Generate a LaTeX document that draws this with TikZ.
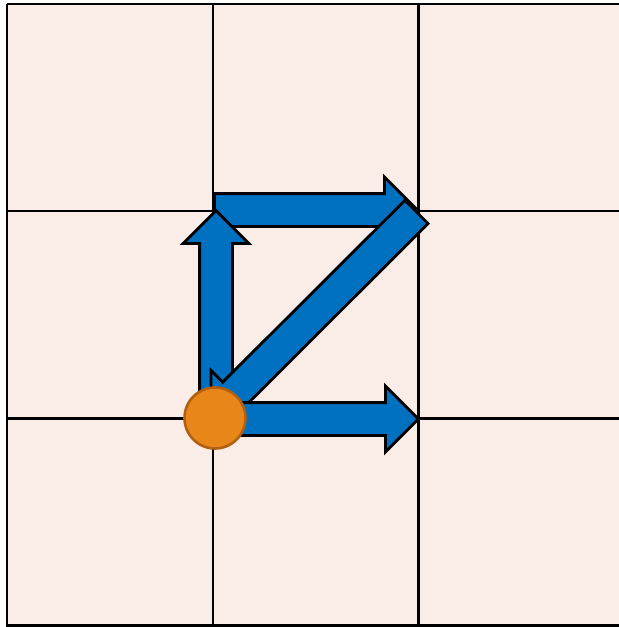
\documentclass[tikz,border=0pt]{standalone}
\usetikzlibrary{calc,shapes.arrows}

\definecolor{cellbg}{HTML}{FAEDE8}
\definecolor{arrowblue}{HTML}{0070C0}
\definecolor{dotorange}{HTML}{E8861A}
\definecolor{dotrim}{HTML}{B0600F}

\begin{document}
\begin{tikzpicture}[
  x=0.5pt,
  y=-0.5pt,
  grid line/.style={draw=black,line width=1.2pt},
  move arrow/.style={single arrow,draw=black,fill=arrowblue,line width=1.4pt,
    inner sep=0pt,inner ysep=7.5pt,single arrow head extend=8.25pt},
  robot/.style={circle,draw=dotrim,fill=dotorange,line width=1.3pt,
    inner sep=0pt,minimum size=30.5pt},
]
  \newcommand*{\CellW}{205.7}
  \newcommand*{\CellH}{207.2}

  % Block arrow from #1 to #2, node name #3
  \newcommand*{\MoveArrow}[3]{
    \path let \p1=($(#2)-(#1)$), \n1={atan2(\y1,\x1)}, \n2={veclen(\x1,\y1)} in
      node[move arrow,minimum height=\n2,rotate=\n1,anchor=tail] (#3) at (#1) {};
  }

  \useasboundingbox (0,0) rectangle (619,627);

  % Board, cells of \CellW x \CellH
  \fill[cellbg] (7,4) rectangle (630,640);
  \foreach \i in {0,...,3} {
    \draw[grid line] ({7+\i*\CellW},4) -- ({7+\i*\CellW},640);
    \draw[grid line] (7,{4+\i*\CellH}) -- (630,{4+\i*\CellH});
  }

  % Arrow end points
  \coordinate (start) at (215,418);
  \coordinate (up-tail) at (216,418);
  \coordinate (up-tip) at (216,212);
  \coordinate (top-tail) at (213,210);
  \coordinate (top-tip) at (416,210);
  \coordinate (diag-tail) at (417.5,211);
  \coordinate (diag-tip) at (212,416);
  \coordinate (right-tail) at (215,419);
  \coordinate (right-tip) at (417,419);

  \MoveArrow{top-tail}{top-tip}{arrow-top}
  \MoveArrow{up-tail}{up-tip}{arrow-up}
  \MoveArrow{diag-tail}{diag-tip}{arrow-diag}
  \MoveArrow{right-tail}{right-tip}{arrow-right}

  \node[robot] (bot) at (start) {};
\end{tikzpicture}
\end{document}
